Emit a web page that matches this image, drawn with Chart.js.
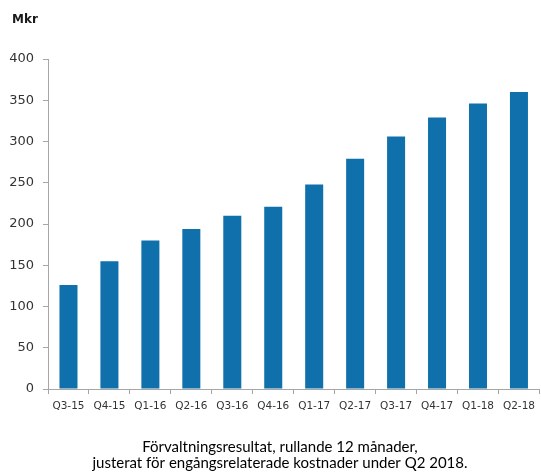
<!DOCTYPE html>
<html>
<head>
<meta charset="utf-8">
<script src="https://cdn.jsdelivr.net/npm/chart.js@4/dist/chart.umd.min.js"></script>
<style>
  html, body { margin: 0; padding: 0; background: #fff; }
  #wrap { width: 541px; height: 472px; position: relative; }
</style>
</head>
<body>
<div id="wrap"><canvas id="c"></canvas></div>
<script>
// Quarterly periods and rolling 12-month management result (Mkr)
const quarters = ['Q3-15', 'Q4-15', 'Q1-16', 'Q2-16', 'Q3-16', 'Q4-16',
                  'Q1-17', 'Q2-17', 'Q3-17', 'Q4-17', 'Q1-18', 'Q2-18'];
const resultMkr = [126, 155, 180, 194, 210, 221, 248, 279, 306, 329, 346, 360];
const yTicks = [0, 50, 100, 150, 200, 250, 300, 350, 400];
const unitLabel = 'Mkr';
const captionLines = ['Förvaltningsresultat, rullande 12 månader,',
                      'justerat för engångsrelaterade kostnader under Q2 2018.'];

const axisGray = '#a6a6a6';
const barBlue = '#0f70ab';

// Unit label above the value axis and the two-line caption under the chart
const textPlugin = {
  id: 'chartTexts',
  afterDraw(chart) {
    const ctx = chart.ctx;
    ctx.save();
    ctx.font = 'bold 12px "DejaVu Sans"';
    ctx.fillStyle = '#1a1a1a';
    ctx.textAlign = 'left';
    ctx.textBaseline = 'middle';
    ctx.fillText(unitLabel, 12, 20);

    ctx.font = '15px Lato';
    ctx.fillStyle = '#000';
    ctx.textAlign = 'center';
    ctx.textBaseline = 'alphabetic';
    captionLines.forEach((line, i) => ctx.fillText(line, 280, 452 + i * 16));
    ctx.restore();
  }
};

new Chart(document.getElementById('c'), {
  type: 'bar',
  data: {
    labels: quarters,
    datasets: [{
      data: resultMkr,
      backgroundColor: barBlue,
      borderWidth: 0,
      barPercentage: 0.44,
      categoryPercentage: 1.0
    }]
  },
  plugins: [textPlugin],
  options: {
    responsive: true,
    maintainAspectRatio: false,
    animation: false,
    layout: { padding: { left: 0, right: 0, top: 59, bottom: 57 } },
    plugins: {
      legend: { display: false },
      tooltip: { enabled: false },
      title: { display: false }
    },
    scales: {
      x: {
        afterFit: (s) => { s.height = 26; },
        grid: {
          display: true,
          offset: true,
          drawOnChartArea: false,
          drawTicks: true,
          tickLength: 5,
          color: axisGray
        },
        border: { display: true, color: axisGray, width: 1 },
        ticks: {
          color: '#333',
          padding: 6,
          maxRotation: 0,
          autoSkip: false,
          font: { family: 'DejaVu Sans', size: 10.5 }
        }
      },
      y: {
        min: 0,
        max: 400,
        afterFit: (s) => { s.width = 48; },
        afterBuildTicks: (s) => { s.ticks = yTicks.map(v => ({ value: v })); },
        grid: {
          display: true,
          drawOnChartArea: false,
          drawTicks: true,
          tickLength: 5,
          color: axisGray
        },
        border: { display: true, color: axisGray, width: 1 },
        ticks: {
          color: '#333',
          padding: 9,
          font: { family: 'DejaVu Sans', size: 13 }
        }
      }
    }
  }
});
</script>
</body>
</html>
